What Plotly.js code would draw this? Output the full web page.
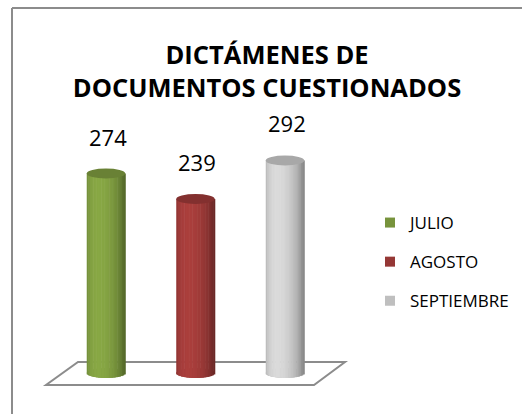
<!DOCTYPE html>
<html>
<head>
<meta charset="utf-8">
<script src="https://cdn.plot.ly/plotly-3.0.1.min.js"></script>
<style>html,body{margin:0;padding:0;background:#fff;}#chart{width:522px;height:414px;}</style>
</head>
<body>
<div id="chart"></div>
<script>
// ---- data ----
var categories = ['JULIO', 'AGOSTO', 'SEPTIEMBRE'];
var values = [274, 239, 292];
var titleText = 'DICTÁMENES DE<br>DOCUMENTOS CUESTIONADOS';

// ---- style ----
var baseColors = [[119,147,60],[149,55,53],[191,191,191]];
var legendColors = ['#77933C', '#953735', '#BFBFBF'];
var W = 522, H = 414;
var barW = 0.43;          // cylinder width in category units
var capH = 6.9;           // half-height of elliptical cap in value units
var NS = 24;              // strips per cylinder for shading
var FONT = 'Open Sans, sans-serif';

function rgb(c, f){
  return 'rgb(' + c.map(function(v){return Math.max(0, Math.min(255, Math.round(v*f)));}).join(',') + ')';
}
function shade(t){
  var th = Math.asin(Math.max(-1, Math.min(1, t)));
  return 0.72 + 0.42*Math.max(0, Math.cos(th + 0.4));
}
function px(x){ return x / W; }
function py(y){ return 1 - y / H; }

var xs = categories.map(function(c, i){ return i; });
var traces = [];
for (var k = 0; k < NS; k++) {
  var tc = -1 + (2*k + 1)/NS;             // strip center in [-1,1]
  var depth = capH * Math.sqrt(Math.max(0, 1 - tc*tc));
  var sw = barW / NS;
  traces.push({
    type: 'bar',
    x: xs,
    y: values.map(function(v){ return v + depth; }),
    base: values.map(function(){ return -depth; }),
    width: sw * 1.35,
    offset: -barW/2 + k*sw,
    marker: { color: baseColors.map(function(c){ return rgb(c, shade(tc)); }), line: {width: 0} },
    showlegend: false,
    hoverinfo: 'skip'
  });
}
categories.forEach(function(c, i){
  traces.push({
    type: 'scatter', mode: 'markers', x: [null], y: [null],
    name: c, legendgroup: 'g' + i,
    marker: { symbol: 'square', size: 10, color: legendColors[i] },
    hoverinfo: 'skip'
  });
});

var shapes = [];
values.forEach(function(v, i){
  shapes.push({type: 'circle', xref: 'x', yref: 'y', layer: 'below',
    x0: i - barW/2, x1: i + barW/2, y0: -capH, y1: capH,
    fillcolor: rgb(baseColors[i], 0.85), line: {width: 0}});
});
values.forEach(function(v, i){
  shapes.push({type: 'circle', xref: 'x', yref: 'y', layer: 'above',
    x0: i - barW/2, x1: i + barW/2, y0: v - capH, y1: v + capH,
    fillcolor: rgb(baseColors[i], 0.88), line: {width: 0}});
});
shapes.push({type: 'path', xref: 'paper', yref: 'paper', layer: 'below',
  path: 'M' + px(78) + ',' + py(362) + ' L' + px(345) + ',' + py(362) + ' L' + px(314) + ',' + py(385) + ' L' + px(46) + ',' + py(385) + ' Z',
  fillcolor: 'rgba(0,0,0,0)', line: {color: '#8c8c8c', width: 2}});
shapes.push({type: 'line', xref: 'paper', yref: 'paper', x0: px(12), x1: 1, y0: py(8), y1: py(8), line: {color: '#8c8c8c', width: 2}});
shapes.push({type: 'line', xref: 'paper', yref: 'paper', x0: px(12), x1: px(12), y0: py(8), y1: 0, line: {color: '#8c8c8c', width: 2}});

var annotations = values.map(function(v, i){
  return {x: i, y: v, xref: 'x', yref: 'y', text: String(v), showarrow: false,
    yshift: 37, xshift: 2, font: {family: FONT, size: 22, color: '#000'}};
});

var layout = {
  width: W, height: H,
  margin: {l: 0, r: 0, t: 0, b: 0},
  paper_bgcolor: '#fff', plot_bgcolor: 'rgba(0,0,0,0)',
  barmode: 'overlay',
  title: {text: titleText, x: 267/W, xanchor: 'center', y: py(64), yanchor: 'middle', yref: 'container',
    font: {family: FONT, size: 25.5, color: '#000', weight: 'bold'}},
  xaxis: {range: [-1.184, 4.648], visible: false, fixedrange: true},
  yaxis: {range: [-56.3, 512.4], visible: false, fixedrange: true},
  showlegend: true,
  legend: {x: px(370), xanchor: 'left', y: py(205), yanchor: 'top', traceorder: 'grouped',
    tracegroupgap: 14, font: {family: FONT, size: 17, color: '#000'}, bgcolor: 'rgba(0,0,0,0)'},
  shapes: shapes,
  annotations: annotations
};
Plotly.newPlot('chart', traces, layout, {displayModeBar: false, staticPlot: true});
</script>
</body>
</html>
